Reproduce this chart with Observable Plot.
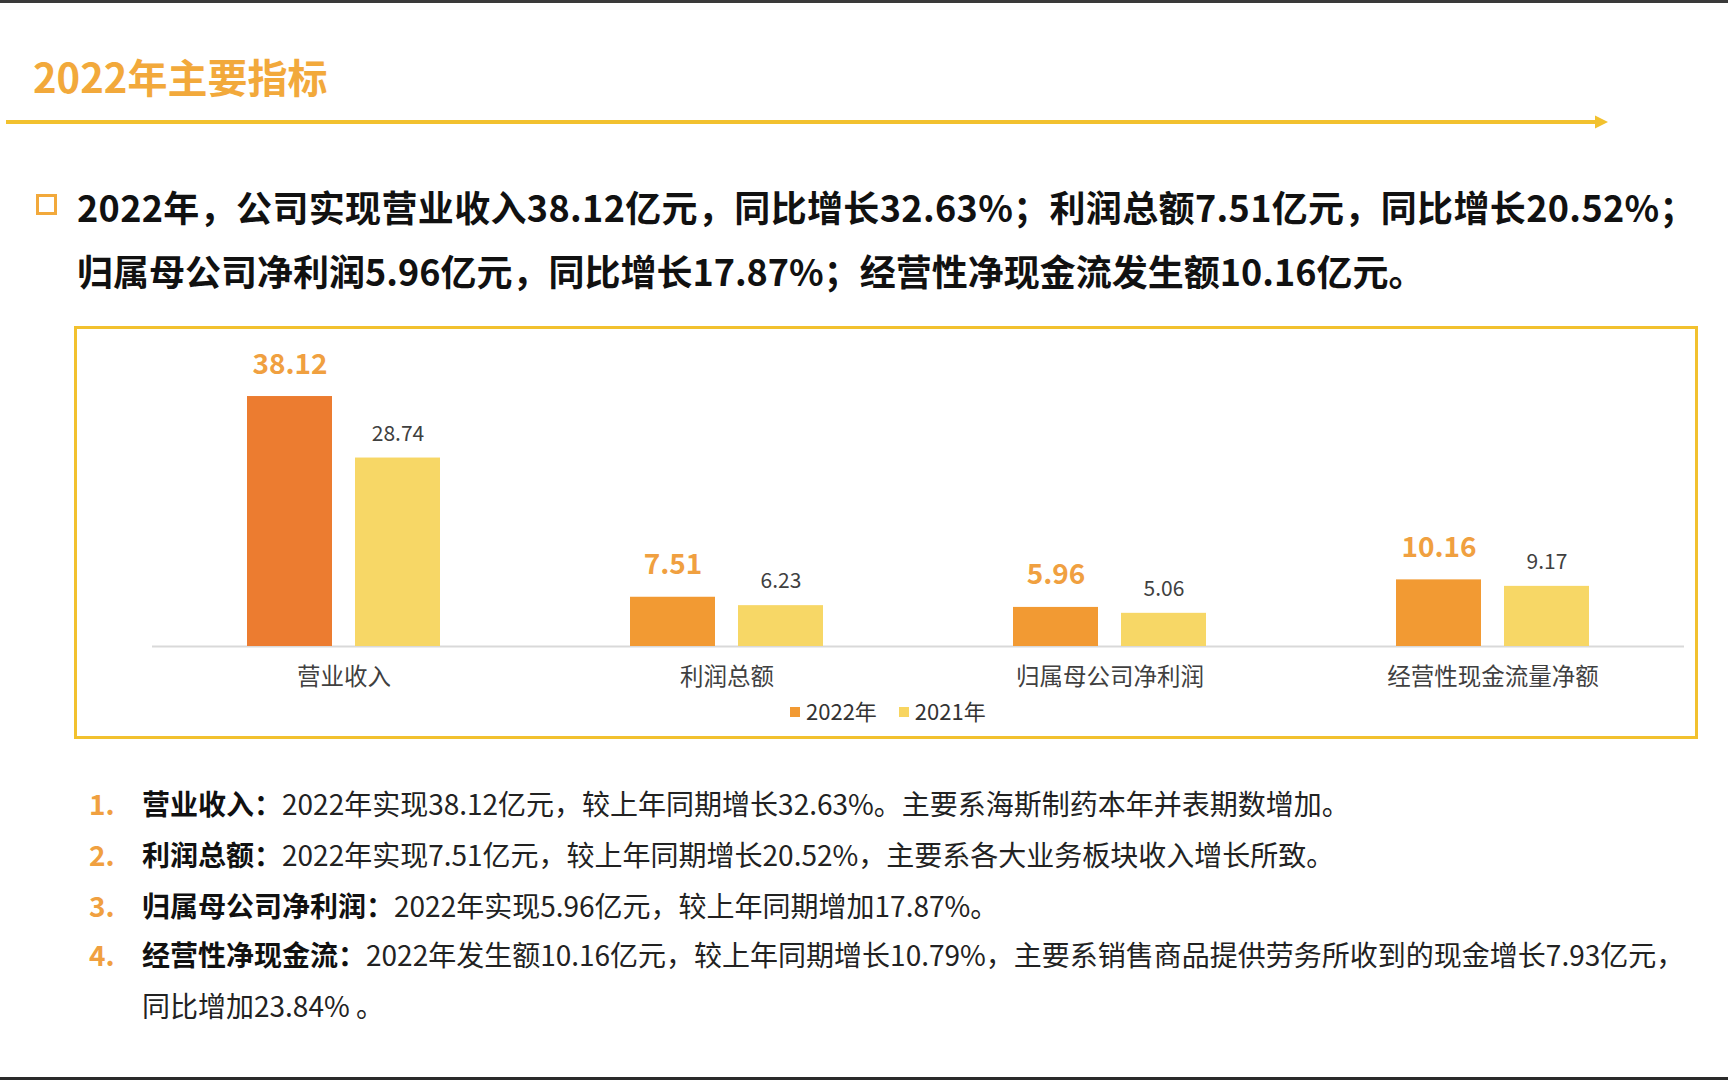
<!DOCTYPE html>
<html><head><meta charset="utf-8">
<script src="https://cdn.jsdelivr.net/npm/d3@7"></script>
<script src="https://cdn.jsdelivr.net/npm/@observablehq/plot@0.6"></script>
<style>
html,body{margin:0;padding:0;background:#fff;}
body{width:1728px;height:1080px;position:relative;overflow:hidden;font-family:"Noto Sans CJK SC","Noto Sans",sans-serif;}
.abs{position:absolute;white-space:nowrap;}
.head{left:77px;font-size:36px;line-height:36px;font-weight:700;color:#111;}
.li{font-size:28px;line-height:28px;color:#222;}
.num{left:89px;font-weight:700;color:#F0A040;}
.txt{left:142px;}
.txt b{color:#111;}
.sw{display:inline-block;width:10px;height:10px;margin-right:6px;vertical-align:middle;position:relative;top:-2px;}
</style></head><body>
<div class="abs" style="left:0;top:0;width:1728px;height:3px;background:#3a3a3a"></div>
<div class="abs" style="left:0;top:1077px;width:1728px;height:3px;background:#2a2a2a"></div>

<div class="abs" style="left:33px;top:56px;font-size:40px;line-height:40px;font-weight:700;color:#F2A93B">2022年主要指标</div>
<svg class="abs" style="left:0;top:112px" width="1620" height="22">
  <line x1="6" y1="10" x2="1598" y2="10" stroke="#F2C12E" stroke-width="4"/>
  <path d="M1595,3.5 L1608,10 L1595,16.5 Z" fill="#F2C12E"/>
</svg>

<div class="abs" style="left:36px;top:194px;width:21px;height:21px;box-sizing:border-box;border:3.5px solid #F2A93B"></div>
<div class="abs head" style="top:188px;letter-spacing:0.35px">2022年，公司实现营业收入38.12亿元，同比增长32.63%；利润总额7.51亿元，同比增长20.52%；</div>
<div class="abs head" style="top:252px">归属母公司净利润5.96亿元，同比增长17.87%；经营性净现金流发生额10.16亿元。</div>

<div class="abs" style="left:74px;top:326px;width:1624px;height:413px;box-sizing:border-box;border:3px solid #F2C12E"></div>
<div id="chart" class="abs" style="left:74px;top:326px"></div>
<div id="legend" class="abs" style="left:790px;top:699px;font-size:22px;line-height:22px;color:#333"></div>

<div class="abs li num" style="top:789px">1.</div>
<div class="abs li txt" style="top:789px"><b>营业收入：</b>2022年实现38.12亿元，较上年同期增长32.63%。主要系海斯制药本年并表期数增加。</div>
<div class="abs li num" style="top:840px">2.</div>
<div class="abs li txt" style="top:840px"><b>利润总额：</b>2022年实现7.51亿元，较上年同期增长20.52%，主要系各大业务板块收入增长所致。</div>
<div class="abs li num" style="top:891px">3.</div>
<div class="abs li txt" style="top:891px"><b>归属母公司净利润：</b>2022年实现5.96亿元，较上年同期增加17.87%。</div>
<div class="abs li num" style="top:940px">4.</div>
<div class="abs li txt" style="top:940px"><b>经营性净现金流：</b>2022年发生额10.16亿元，较上年同期增长10.79%，主要系销售商品提供劳务所收到的现金增长7.93亿元，</div>
<div class="abs li txt" style="top:991px">同比增加23.84% 。</div>

<script>
const categories = ["营业收入", "利润总额", "归属母公司净利润", "经营性现金流量净额"];
const years = ["2022年", "2021年"];
const values2022 = [38.12, 7.51, 5.96, 10.16];
const values2021 = [28.74, 6.23, 5.06, 9.17];

const rows = [];
categories.forEach((c, i) => {
  rows.push({category: c, year: years[0], value: values2022[i]});
  rows.push({category: c, year: years[1], value: values2021[i]});
});

const barFill = d => d.year === years[1] ? "#F7D766" : (d.category === categories[0] ? "#EC7C30" : "#F29A33");
const font = '"Noto Sans CJK SC","Noto Sans",sans-serif';

const chart = Plot.plot({
  width: 1624,
  height: 372,
  marginLeft: 77,
  marginRight: 14,
  marginTop: 0,
  marginBottom: 52,
  fx: {domain: categories, padding: 0, label: null, axis: null},
  x: {domain: years, paddingInner: 0.211, paddingOuter: 0.864, axis: null},
  y: {domain: [0, 48.8], axis: null},
  color: {type: "identity"},
  style: {fontFamily: font, fontSize: "23.5px", color: "#404040", background: "transparent", overflow: "visible"},
  marks: [
    Plot.ruleY([0], {stroke: "#D9D9D9", strokeWidth: 2}),
    Plot.barY(rows, {fx: "category", x: "year", y: "value", fill: barFill}),
    Plot.text(rows.filter(d => d.year === years[0]), {
      fx: "category", x: "year", y: "value", text: d => d.value.toFixed(2),
      dy: -32, fill: "#F0A040", fontWeight: "bold", fontSize: 28
    }),
    Plot.text(rows.filter(d => d.year === years[1]), {
      fx: "category", x: "year", y: "value", text: d => d.value.toFixed(2),
      dy: -24, fill: "#404040", fontSize: 21
    }),
    Plot.axisFx({anchor: "bottom", tickSize: 0, tickPadding: 22, label: null, fontSize: 23.5})
  ]
});
document.getElementById("chart").appendChild(chart);

const legendColors = ["#F29A33", "#F8D560"];
const legend = document.getElementById("legend");
years.forEach((y, i) => {
  const item = document.createElement("span");
  item.style.marginRight = i === 0 ? "22px" : "0";
  item.innerHTML = `<span class="sw" style="background:${legendColors[i]}"></span>${y}`;
  legend.appendChild(item);
});
</script>
</body></html>
